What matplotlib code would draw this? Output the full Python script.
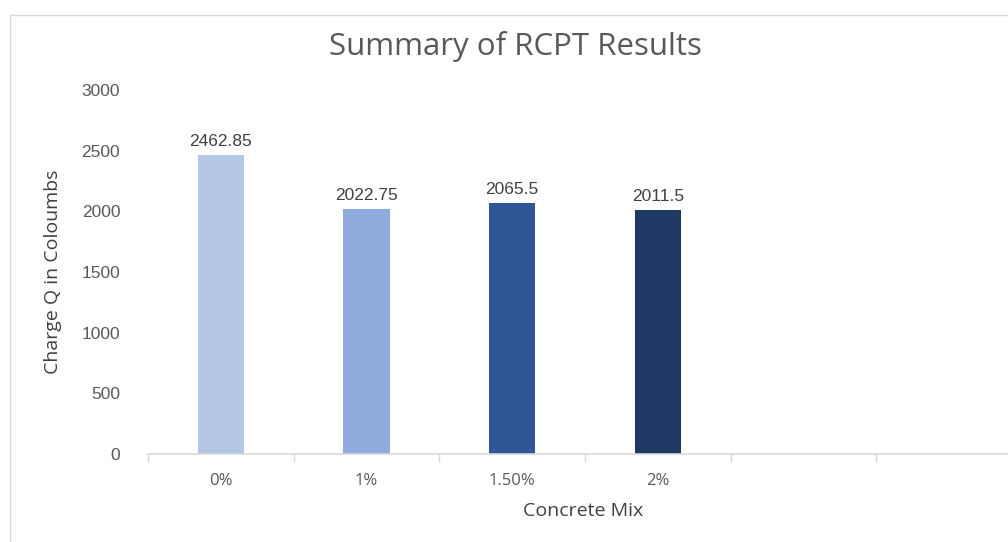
import numpy as np
import matplotlib.pyplot as plt
from matplotlib.patches import Rectangle

categories = ["0%", "1%", "1.50%", "2%", "", ""]
charge = [2462.85, 2022.75, 2065.5, 2011.5]
bar_labels = ["2462.85", "2022.75", "2065.5", "2011.5"]
colors = ["#B4C7E7", "#8FAADC", "#2F5597", "#203864"]
yticks = [0, 500, 1000, 1500, 2000, 2500, 3000]

txt = "#595959"
plt.rcParams['font.family'] = ['Open Sans', 'DejaVu Sans']
num_font = ['Liberation Sans', 'DejaVu Sans']

fig = plt.figure(figsize=(10.08, 5.42), dpi=100)
# chart border (Excel chart area)
fig.patches.append(Rectangle((10/1008, -0.01), 1.0, 532/542, transform=fig.transFigure,
                             fill=False, edgecolor="#D9D9D9", lw=1))

ax = fig.add_axes([148/1008, 88/542, 874/1008, 364/542])
x = np.arange(len(charge)) + 0.5
ax.bar(x, charge, width=0.316, color=colors)
for xi, v, lab in zip(x, charge, bar_labels):
    ax.text(xi, v + 50, lab, ha="center", va="bottom", fontsize=12.5, color="#404040",
            family=num_font)

ax.set_xlim(0, len(categories))
ax.set_ylim(0, 3000)
ax.set_yticks(yticks)
ax.set_yticklabels([str(t) for t in yticks], fontsize=12.5, color=txt, family=num_font)
ax.tick_params(axis="y", length=0, pad=20)

ax.set_xticks(np.arange(len(categories) + 1))
ax.set_xticklabels([])
ax.tick_params(axis="x", length=6, color="#D9D9D9", width=1, direction="out")
ax.set_xticks(np.arange(len(categories)) + 0.5, minor=True)
ax.set_xticklabels(categories, minor=True, fontsize=12, color=txt)
ax.tick_params(axis="x", which="minor", length=0, pad=14)

for s in ["top", "right", "left"]:
    ax.spines[s].set_visible(False)
ax.spines["bottom"].set_color("#D9D9D9")
ax.spines["bottom"].set_linewidth(1.2)

ax.set_xlabel("Concrete Mix", fontsize=14, color="#404040")
ax.xaxis.set_label_coords(435/874, -48/364)
ax.set_ylabel("Charge Q in Coloumbs", fontsize=14, color="#404040")
ax.yaxis.set_label_coords(-86/874, 0.5)

fig.text(515/1008, 1 - 47/542, "Summary of RCPT Results", ha="center", va="center",
         fontsize=22.5, color=txt)

fig.savefig("out.png", dpi=100)
